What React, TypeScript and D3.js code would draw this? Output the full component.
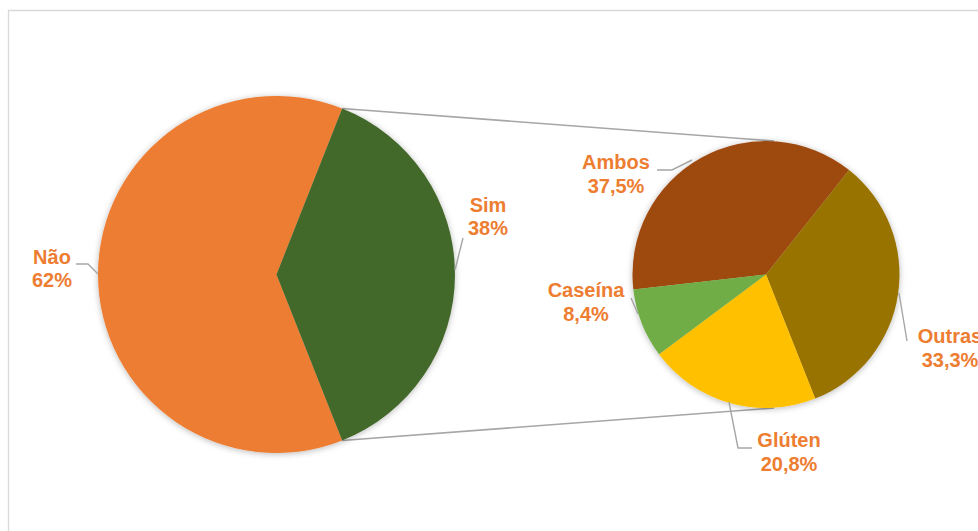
import React from "react";
import * as d3 from "d3";

const mainLabels = ["Não", "Sim"];
const mainValues = [62, 38];
const mainPct = ["62%", "38%"];
const subLabels = ["Ambos", "Outras", "Glúten", "Caseína"];
const subValues = [37.5, 33.3, 20.8, 8.4];
const subPct = ["37,5%", "33,3%", "20,8%", "8,4%"];

const mainColors = ["#ED7D31", "#43682B"];
const subColors = ["#9E480E", "#997300", "#FFC000", "#70AD47"];

const W = 978, H = 531;
const c1 = { x: 276.5, y: 274.5, r: 178.5 };
const c2 = { x: 766, y: 274.5, r: 133.5 };

// label layout (center x, first baseline y) and leader polylines
const mainLabelPos = [
  { x: 52, y: 264, leader: [[76, 264], [88, 264], [98, 274]] },
  { x: 488, y: 212, leader: [[463, 238], [455, 270]] },
];
const subLabelPos = [
  { x: 616, y: 169, leader: [[657, 170], [672, 170], [692, 160]] },
  { x: 950, y: 343, leader: [[907, 341], [899, 293]] },
  { x: 789, y: 447, leader: [[752, 448], [738, 448], [729, 402]] },
  { x: 586, y: 297, leader: [[631, 298], [638, 314]] },
];

export default function App() {
  const total = d3.sum(mainValues);
  const simFrac = mainValues[1] / total;
  const mainPie = d3
    .pie<number>()
    .sort(null)
    .startAngle(Math.PI / 2 + simFrac * Math.PI)
    .endAngle(Math.PI / 2 + simFrac * Math.PI + 2 * Math.PI)(mainValues);
  const subStart = (-96.5 * Math.PI) / 180;
  const subPie = d3
    .pie<number>()
    .sort(null)
    .startAngle(subStart)
    .endAngle(subStart + 2 * Math.PI)(subValues);
  const arc1 = d3.arc<d3.PieArcDatum<number>>().innerRadius(0).outerRadius(c1.r);
  const arc2 = d3.arc<d3.PieArcDatum<number>>().innerRadius(0).outerRadius(c2.r);

  const simArc = mainPie[1];
  const pt = (a: number) => [c1.x + c1.r * Math.sin(a), c1.y - c1.r * Math.cos(a)];
  const pTop = pt(simArc.startAngle);
  const pBot = pt(simArc.endAngle);
  const line = d3.line();

  const font = "'Liberation Sans', Arial, sans-serif";
  const labelStyle = { fontFamily: font, fontWeight: 700, fontSize: 20, fill: "#ED7D31" } as const;

  return (
    <svg width={W} height={H} style={{ position: "absolute", left: 0, top: 0, background: "#fff" }}>
      <defs>
        <filter id="sh" x="-20%" y="-20%" width="140%" height="140%">
          <feDropShadow dx="0" dy="1" stdDeviation="3" floodColor="#000" floodOpacity="0.28" />
        </filter>
      </defs>
      <line x1={8} y1={10.5} x2={W} y2={10.5} stroke="#D9D9D9" strokeWidth={1.3} />
      <line x1={8.5} y1={10} x2={8.5} y2={H} stroke="#D9D9D9" strokeWidth={1.3} />

      <line x1={pTop[0]} y1={pTop[1]} x2={c2.x + 8} y2={c2.y - c2.r} stroke="#A6A6A6" strokeWidth={1.6} />
      <line x1={pBot[0]} y1={pBot[1]} x2={c2.x + 8} y2={c2.y + c2.r} stroke="#A6A6A6" strokeWidth={1.6} />

      <g transform={`translate(${c1.x},${c1.y})`} filter="url(#sh)">
        {mainPie.map((d, i) => (
          <path key={i} d={arc1(d) || ""} fill={mainColors[i]} />
        ))}
      </g>
      <g transform={`translate(${c2.x},${c2.y})`} filter="url(#sh)">
        {subPie.map((d, i) => (
          <path key={i} d={arc2(d) || ""} fill={subColors[i]} />
        ))}
      </g>

      {mainLabelPos.map((p, i) => (
        <g key={"m" + i}>
          <path d={line(p.leader as [number, number][]) || ""} fill="none" stroke="#A6A6A6" strokeWidth={1.4} />
          <text x={p.x} y={p.y} textAnchor="middle" style={labelStyle}>{mainLabels[i]}</text>
          <text x={p.x} y={p.y + 22.5} textAnchor="middle" style={labelStyle}>{mainPct[i]}</text>
        </g>
      ))}
      {subLabelPos.map((p, i) => (
        <g key={"s" + i}>
          <path d={line(p.leader as [number, number][]) || ""} fill="none" stroke="#A6A6A6" strokeWidth={1.4} />
          <text x={p.x} y={p.y} textAnchor="middle" style={labelStyle}>{subLabels[i]}</text>
          <text x={p.x} y={p.y + 24} textAnchor="middle" style={labelStyle}>{subPct[i]}</text>
        </g>
      ))}
    </svg>
  );
}
